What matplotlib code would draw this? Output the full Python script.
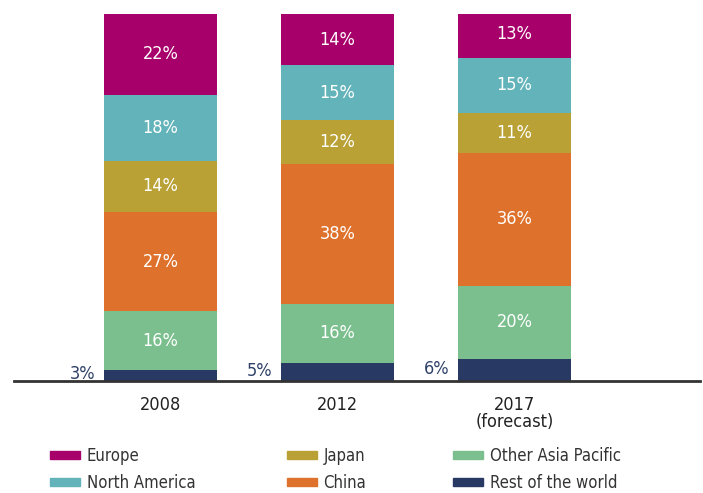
import matplotlib
matplotlib.use("Agg")
import matplotlib.pyplot as plt
from matplotlib.patches import Patch

plt.rcParams['font.family'] = ['DejaVu Sans']
plt.rcParams['font.stretch'] = 'condensed'

years = ['2008', '2012', '2017\n(forecast)']
regions = ['Rest of the world', 'Other Asia Pacific', 'China', 'Japan', 'North America', 'Europe']
rest_of_world = [3, 5, 6]
other_asia = [16, 16, 20]
china = [27, 38, 36]
japan = [14, 12, 11]
north_america = [18, 15, 15]
europe = [22, 14, 13]
colors = ['#283A63', '#7BBF8E', '#DE722C', '#B9A135', '#63B3BA', '#A8006A']

series = [rest_of_world, other_asia, china, japan, north_america, europe]

fig = plt.figure(figsize=(7.03, 4.93), dpi=100)
ax = fig.add_axes([0.02, 0.227, 0.976, 0.745])

x = [0, 1, 2]
width = 0.638
bottom = [0, 0, 0]
for vals, col, name in zip(series, colors, regions):
    ax.bar(x, vals, width, bottom=bottom, color=col, label=name)
    for i in x:
        if name == 'Rest of the world':
            ax.text(i - width / 2 - 0.05, bottom[i] + vals[i] / 2 + 0.3, f'{vals[i]}%',
                    ha='right', va='center', color='#2E4068', fontsize=13)
        else:
            ax.text(i, bottom[i] + vals[i] / 2, f'{vals[i]}%', ha='center', va='center',
                    color='white', fontsize=13)
    bottom = [b + v for b, v in zip(bottom, vals)]

ax.set_xlim(-0.828, 3.048)
ax.set_ylim(0, 100)
for s in ['top', 'right', 'left']:
    ax.spines[s].set_visible(False)
ax.spines['bottom'].set_color('#333333')
ax.spines['bottom'].set_linewidth(2)
ax.set_yticks([])
ax.set_xticks(x)
ax.set_xticklabels(years, fontsize=13, color='#222222', linespacing=0.9)
ax.tick_params(axis='x', length=0, pad=11)

# legend, three columns placed separately
cols = [(0.071, ['Europe', 'North America']), (0.408, ['Japan', 'China']),
        (0.645, ['Other Asia Pacific', 'Rest of the world'])]
for xpos, names in cols:
    handles = [Patch(color=colors[regions.index(n)]) for n in names]
    fig.legend(handles, names, loc='upper left', bbox_to_anchor=(xpos, 0.094),
               frameon=False, fontsize=12, handlelength=1.8, handleheight=0.35,
               labelspacing=0.55, handletextpad=0.4, labelcolor='#333333',
               borderaxespad=0, borderpad=0)

fig.savefig('out.png', dpi=100)
